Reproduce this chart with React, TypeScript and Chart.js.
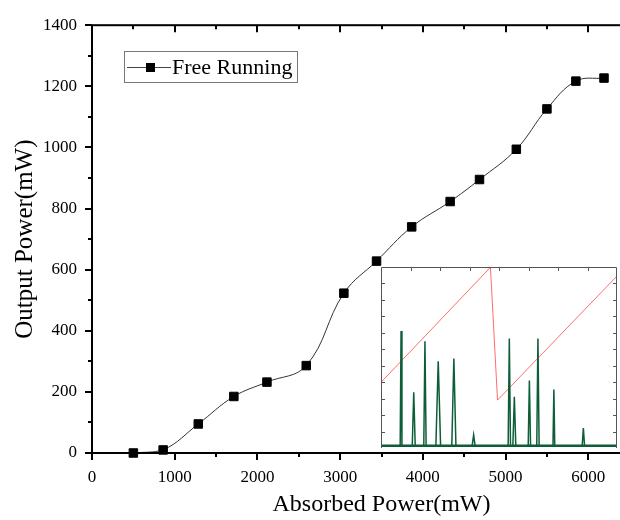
import React, { useEffect, useRef } from "react";
import { Chart, registerables } from "chart.js";

Chart.register(...registerables);

// ---- Main chart data ----
const absorbedPower = [500, 860, 1285, 1715, 2115, 2590, 3045, 3440, 3865, 4330, 4685, 5130, 5500, 5850, 6190];
const outputPower = [0, 10, 95, 185, 232, 286, 523, 628, 740, 823, 895, 994, 1126, 1217, 1227];
const xTickValues = [0, 1000, 2000, 3000, 4000, 5000, 6000];
const seriesName = "Free Running";
const xTitle = "Absorbed Power(mW)";
const yTitle = "Output Power(mW)";

// ---- Inset data (arbitrary units) ----
const rampX = [0, 3.71, 3.95, 8.0];
const rampY = [3.99, 10.98, 2.91, 10.45];
const peakX = [0.68, 1.11, 1.49, 1.94, 2.47, 3.14, 4.35, 4.52, 5.03, 5.32, 5.86, 6.86];
const peakH = [7.11, 3.38, 6.48, 5.27, 5.44, 0.79, 6.66, 3.12, 4.1, 6.66, 3.55, 1.22];
const peakW = [0.03, 0.05, 0.04, 0.08, 0.07, 0.05, 0.04, 0.05, 0.04, 0.04, 0.03, 0.04];
const baseline = 0.14;

const SERIF = "'Liberation Serif', 'Times New Roman', serif";

const framePlugin = {
  id: "frame",
  afterDraw(chart: any) {
    const { ctx, chartArea: a, scales } = chart;
    const xs = scales.x;
    const ys = scales.y;
    ctx.save();
    ctx.strokeStyle = "#000";
    ctx.lineWidth = 2;
    ctx.strokeRect(a.left, a.top, a.right - a.left, a.bottom - a.top);
    ctx.beginPath();
    for (let v = 0; v <= 7000; v += 500) {
      const px = Math.round(xs.getPixelForValue(v));
      const len = v % 1000 === 0 ? 7 : 4;
      ctx.moveTo(px, a.bottom);
      ctx.lineTo(px, a.bottom + len);
      ctx.moveTo(px, a.top);
      ctx.lineTo(px, a.top + len);
    }
    for (let v = 0; v <= 1400; v += 100) {
      const py = Math.round(ys.getPixelForValue(v));
      const len = v % 200 === 0 ? 7 : 4;
      ctx.moveTo(a.left, py);
      ctx.lineTo(a.left - len, py);
      ctx.moveTo(a.right, py);
      ctx.lineTo(a.right - len, py);
    }
    ctx.stroke();

    // legend
    ctx.lineWidth = 1;
    ctx.strokeStyle = "#777";
    ctx.strokeRect(124.5, 51.5, 173, 31);
    ctx.strokeStyle = "#444";
    ctx.beginPath();
    ctx.moveTo(127, 67.5);
    ctx.lineTo(171, 67.5);
    ctx.stroke();
    ctx.fillStyle = "#000";
    ctx.fillRect(146, 63, 9, 9);
    ctx.font = `22px ${SERIF}`;
    ctx.textBaseline = "middle";
    ctx.textAlign = "left";
    ctx.fillText(seriesName, 172, 68);
    ctx.restore();
  },
};

const insetPlugin = {
  id: "insetFrame",
  beforeDraw(chart: any) {
    const { ctx, width, height } = chart;
    ctx.save();
    ctx.fillStyle = "#fff";
    ctx.fillRect(0, 0, width, height);
    ctx.restore();
  },
  afterDraw(chart: any) {
    const { ctx, chartArea: a, scales } = chart;
    const xs = scales.x;
    const ys = scales.y;
    ctx.save();
    ctx.strokeStyle = "#555";
    ctx.lineWidth = 1;
    ctx.beginPath();
    ctx.moveTo(a.left + 0.5, a.bottom);
    ctx.lineTo(a.left + 0.5, a.top + 0.5);
    ctx.lineTo(a.right - 0.5, a.top + 0.5);
    ctx.lineTo(a.right - 0.5, a.bottom);
    for (let v = 1; v < 11; v++) {
      const py = Math.round(ys.getPixelForValue(v)) + 0.5;
      ctx.moveTo(a.left, py);
      ctx.lineTo(a.left + 4, py);
      ctx.moveTo(a.right, py);
      ctx.lineTo(a.right - 4, py);
    }
    for (let v = 1; v < 8; v++) {
      const px = Math.round(xs.getPixelForValue(v)) + 0.5;
      ctx.moveTo(px, a.top);
      ctx.lineTo(px, a.top + 4);
    }
    ctx.stroke();
    ctx.restore();
  },
};

function spectrumPoints() {
  const pts: { x: number; y: number }[] = [{ x: 0, y: baseline }];
  peakX.forEach((p, i) => {
    pts.push({ x: p - peakW[i], y: baseline });
    pts.push({ x: p, y: peakH[i] });
    pts.push({ x: p + peakW[i], y: baseline });
  });
  pts.push({ x: 8, y: baseline });
  return pts;
}

export default function App() {
  const mainRef = useRef<HTMLCanvasElement>(null);
  const insetRef = useRef<HTMLCanvasElement>(null);

  useEffect(() => {
    const tickFont = { family: SERIF, size: 17 };
    const main = new Chart(mainRef.current!, {
      type: "line",
      data: {
        datasets: [
          {
            label: seriesName,
            data: absorbedPower.map((x, i) => ({ x, y: outputPower[i] })),
            borderColor: "#333",
            borderWidth: 1,
            tension: 0.4,
            pointStyle: "rect",
            pointRadius: 6,
            pointBorderWidth: 1,
            pointBackgroundColor: "#000",
            pointBorderColor: "#000",
            clip: false,
          } as any,
        ],
      },
      options: {
        animation: false,
        responsive: false,
        layout: { padding: { top: 17, right: 9, left: 0, bottom: 0 } },
        plugins: { legend: { display: false }, tooltip: { enabled: false } },
        scales: {
          x: {
            type: "linear",
            min: 0,
            max: 7000,
            grid: { display: false, drawTicks: false },
            border: { display: false },
            afterBuildTicks: (s: any) => {
              s.ticks = xTickValues.map((value) => ({ value }));
            },
            ticks: {
              padding: 14,
              font: tickFont,
              color: "#000",
              maxRotation: 0,
              autoSkip: false,
              callback: (v: any) => String(v),
            },
            title: {
              display: true,
              text: xTitle,
              font: { family: SERIF, size: 24 },
              color: "#000",
              padding: { top: 0, bottom: 1 },
            },
            afterFit: (s: any) => {
              s.height = 67;
            },
          },
          y: {
            type: "linear",
            min: 0,
            max: 1400,
            grid: { display: false, drawTicks: false },
            border: { display: false },
            ticks: {
              stepSize: 200,
              padding: 15,
              font: tickFont,
              color: "#000",
              callback: (v: any) => String(v),
            },
            title: {
              display: true,
              text: yTitle,
              font: { family: SERIF, size: 25 },
              color: "#000",
              padding: { top: 10, bottom: 0 },
            },
            afterFit: (s: any) => {
              s.width = 92;
            },
          },
        },
      } as any,
      plugins: [framePlugin],
    });

    const inset = new Chart(insetRef.current!, {
      type: "line",
      data: {
        datasets: [
          {
            data: spectrumPoints(),
            borderColor: "#0d5e38",
            borderWidth: 1.5,
            pointRadius: 0,
            tension: 0,
          },
          {
            data: [
              { x: 0, y: baseline },
              { x: 8, y: baseline },
            ],
            borderColor: "#0d5e38",
            borderWidth: 2.5,
            pointRadius: 0,
          },
          {
            data: rampX.map((x, i) => ({ x, y: rampY[i] })),
            borderColor: "#ff6e6e",
            borderWidth: 1,
            pointRadius: 0,
            tension: 0,
          },
        ],
      },
      options: {
        animation: false,
        responsive: false,
        layout: { padding: 0 },
        plugins: { legend: { display: false }, tooltip: { enabled: false } },
        scales: {
          x: { type: "linear", min: 0, max: 8, display: false },
          y: { type: "linear", min: 0, max: 11, display: false },
        },
      } as any,
      plugins: [insetPlugin],
    });

    return () => {
      main.destroy();
      inset.destroy();
    };
  }, []);

  return (
    <div
      style={{
        position: "absolute",
        left: 0,
        top: 0,
        width: 620,
        height: 520,
        overflow: "hidden",
        background: "#fff",
      }}
    >
      <div style={{ position: "absolute", left: 0, top: 0 }}>
        <canvas ref={mainRef} width={680} height={520} />
      </div>
      <div style={{ position: "absolute", left: 381, top: 267 }}>
        <canvas ref={insetRef} width={236} height={181} />
      </div>
    </div>
  );
}
